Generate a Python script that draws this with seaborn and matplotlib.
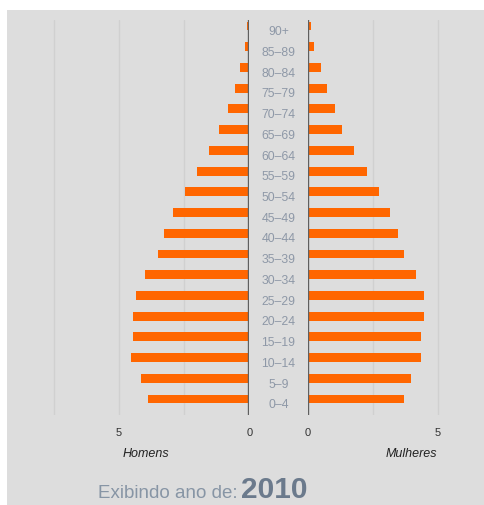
import matplotlib
matplotlib.use('Agg')
import matplotlib.pyplot as plt
import matplotlib.transforms as mtransforms
from matplotlib.patches import Rectangle
import seaborn as sns
import pandas as pd

ages = ['90+', '85–89', '80–84', '75–79', '70–74', '65–69', '60–64', '55–59',
        '50–54', '45–49', '40–44', '35–39', '30–34', '25–29', '20–24',
        '15–19', '10–14', '5–9', '0–4']
homens = [0.08, 0.17, 0.35, 0.56, 0.83, 1.15, 1.55, 2.0, 2.48, 2.93, 3.29,
          3.51, 4.0, 4.36, 4.45, 4.45, 4.54, 4.14, 3.87]
mulheres = [0.12, 0.26, 0.52, 0.75, 1.06, 1.33, 1.77, 2.27, 2.75, 3.15, 3.47,
            3.69, 4.14, 4.48, 4.45, 4.36, 4.36, 3.96, 3.69]
left_ticks = [5, 0]
right_ticks = [0, 5]
year = '2010'

sns.set_style('white')
plt.rcParams['font.family'] = ['Liberation Sans', 'DejaVu Sans']

W, H = 485, 505
fig = plt.figure(figsize=(W / 100, H / 100), dpi=100, facecolor='white')
fig.patches.append(Rectangle((7 / W, 0), 1 - 7 / W, (H - 10) / H,
                             transform=fig.transFigure, facecolor='#dddddd',
                             edgecolor='none', zorder=-10))


def fx(px):
    return px / W


def fy(py):
    return 1 - py / H


y_top, y_bot = 20, 415
bottom = fy(y_bot)
height = (y_bot - y_top) / H
xL0, xR0 = 249.3, 307.7
scale = 26.07

axL = fig.add_axes([fx(7), bottom, fx(xL0 - 7), height])
axR = fig.add_axes([fx(xR0), bottom, fx(W - xR0), height])
axM = fig.add_axes([fx(xL0), bottom, fx(xR0 - xL0), height])

df = pd.DataFrame({'age': ages, 'homens': homens, 'mulheres': mulheres})
bar_color = '#ff6600'
sns.barplot(data=df, x='homens', y='age', order=ages, orient='h',
            color=bar_color, width=0.43, linewidth=0, saturation=1, ax=axL)
sns.barplot(data=df, x='mulheres', y='age', order=ages, orient='h',
            color=bar_color, width=0.43, linewidth=0, saturation=1, ax=axR)

ylim = (18.77, -0.29)
for ax in (axL, axR, axM):
    ax.set_facecolor('none')
    for s in ax.spines.values():
        s.set_visible(False)
    ax.set_ylim(*ylim)
    ax.set_xlabel('')
    ax.set_ylabel('')
    ax.set_yticks([])

axL.set_xlim((xL0 - 7) / scale, 0)
axR.set_xlim(0, (W - xR0) / scale)

for ax, grid in ((axL, [2.5, 5, 7.5]), (axR, [2.5, 5])):
    for g in grid:
        ax.axvline(g, color='#d0d0d0', lw=1, zorder=0)
    ax.axvline(0, color='#5f5f5f', lw=1.7, zorder=3)

axL.set_xticks(left_ticks)
axL.set_xticklabels([str(t) for t in left_ticks])
axR.set_xticks(right_ticks)
axR.set_xticklabels([str(t) for t in right_ticks])
for ax in (axL, axR):
    ax.tick_params(axis='x', length=0, pad=9, labelsize=8, labelcolor='#333333')

axM.set_xticks([])
axM.set_xlim(0, 1)
trans = mtransforms.blended_transform_factory(axM.transAxes, axM.transData)
for i, a in enumerate(ages):
    axM.text(0.5, i + 0.3, a, transform=trans, ha='center', va='center',
             fontsize=8.8, color='#8e98a7')

fig.text(fx(146), fy(454), 'Homens', style='italic', ha='center', va='center',
         fontsize=9, color='#222222')
fig.text(fx(411), fy(454), 'Mulheres', style='italic', ha='center', va='center',
         fontsize=9, color='#222222')

fig.text(fx(98), fy(498.5), 'Exibindo ano de:', ha='left', va='baseline',
         fontsize=13.5, color='#8795a5')
fig.text(fx(241.5), fy(504), year, ha='left', va='bottom',
         fontsize=21.5, fontweight='bold', color='#6b7a8c')

fig.savefig('out.png', dpi=100, facecolor='white')
